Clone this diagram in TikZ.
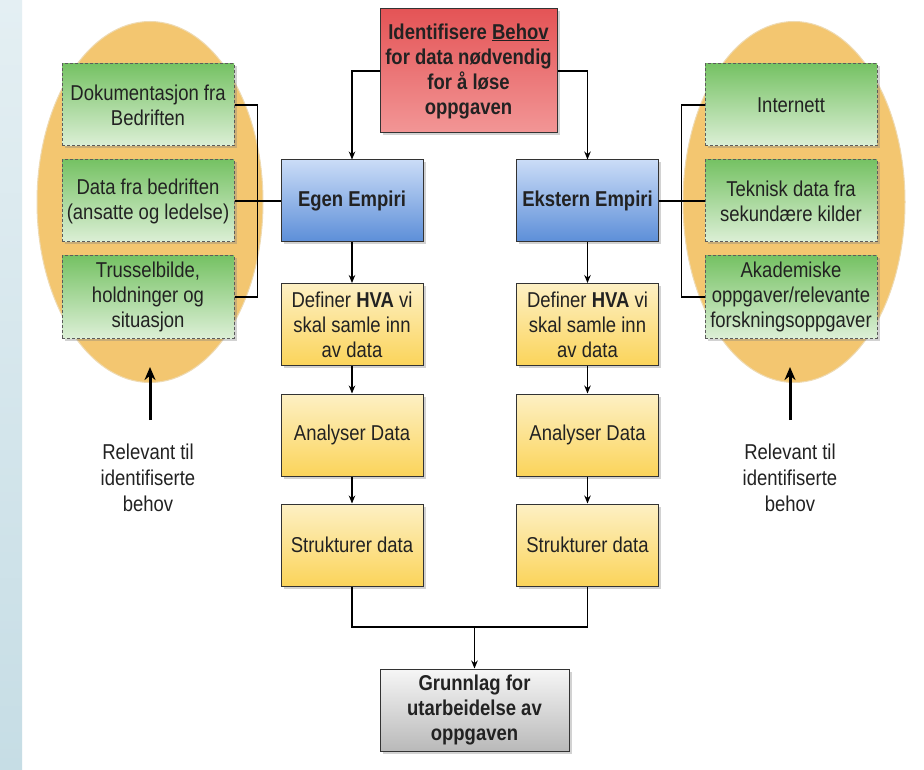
\documentclass[tikz,border=0pt]{standalone}
\usepackage{fontspec}
\setmainfont[FakeStretch=0.86]{Liberation Sans}
\usetikzlibrary{arrows.meta,shadows,shapes.geometric}
\definecolor{txt}{HTML}{222222}
\definecolor{edge}{HTML}{333333}
\tikzset{
  base/.style={rectangle, draw=edge, line width=1pt, inner sep=1pt, align=center, text=txt,
    font=\fontsize{21.5}{25}\selectfont,
    drop shadow={opacity=0.35, shadow xshift=2.5pt, shadow yshift=-2.5pt}},
  redbox/.style={base, top color={rgb,255:red,228;green,84;blue,86}, bottom color={rgb,255:red,242;green,150;blue,150}, font=\bfseries\fontsize{21.5}{25}\selectfont},
  bluebox/.style={base, top color={rgb,255:red,202;green,220;blue,247}, bottom color={rgb,255:red,92;green,142;blue,216}, font=\bfseries\fontsize{21.5}{25}\selectfont},
  yelbox/.style={base, top color={rgb,255:red,253;green,240;blue,196}, bottom color={rgb,255:red,251;green,212;blue,90}},
  graybox/.style={base, top color={rgb,255:red,246;green,246;blue,246}, bottom color={rgb,255:red,185;green,185;blue,185}, font=\bfseries\fontsize{21.5}{25}\selectfont},
  greenbox/.style={base, draw=edge!80, dash pattern=on 3pt off 2pt, top color={rgb,255:red,118;green,194;blue,100}, bottom color={rgb,255:red,220;green,239;blue,214}, minimum width=172pt, minimum height=82pt},
  mainbox/.style={minimum width=142pt, minimum height=82pt},
  oval/.style={ellipse, fill={rgb,255:red,243;green,198;blue,112}, draw={rgb,255:red,238;green,218;blue,178}, line width=1pt, inner sep=0pt},
  arr/.style={-{Stealth[length=8pt,width=6.5pt]}, line width=1.1pt, draw=black},
  conn/.style={line width=1.2pt, draw=black},
  bigarr/.style={-{Stealth[length=13pt,width=11pt]}, line width=3pt, draw=black},
  lbl/.style={align=center, text=txt, font=\fontsize{21.5}{26}\selectfont}
}
\begin{document}
\begin{tikzpicture}[x=1pt,y=-1pt]
\useasboundingbox (0,0) rectangle (924,770);
\fill[white] (0,0) rectangle (924,770);
\shade[top color={rgb,255:red,228;green,239;blue,243}, bottom color={rgb,255:red,198;green,221;blue,229}] (0,0) rectangle (22,770);

% ovals
\node[oval, minimum width=226pt, minimum height=361pt] (lov) at (150,202) {};
\node[oval, minimum width=222pt, minimum height=361pt] (rov) at (794,202) {};

% left green boxes
\node[greenbox] (g1) at (148,105) {Dokumentasjon fra\\Bedriften};
\node[greenbox] (g2) at (148,201) {Data fra bedriften\\(ansatte og ledelse)};
\node[greenbox] (g3) at (148,297) {Trusselbilde,\\holdninger og\\situasjon};

% right green boxes
\node[greenbox] (h1) at (791,105) {Internett};
\node[greenbox] (h2) at (791,201) {Teknisk data fra\\sekundære kilder};
\node[greenbox] (h3) at (791,297) {Akademiske\\oppgaver/relevante\\forskningsoppgaver};

% top
\node[redbox, minimum width=177pt, minimum height=124pt] (top) at (468.5,71) {Identifisere \underline{Behov}\\for data nødvendig\\for å løse\\oppgaven};

% columns
\node[bluebox, mainbox] (egen) at (352,201) {Egen Empiri};
\node[bluebox, mainbox] (ekst) at (587.5,201) {Ekstern Empiri};
\node[yelbox, mainbox] (d1) at (352,324.5) {Definer \textbf{HVA} vi\\skal samle inn\\av data};
\node[yelbox, mainbox] (d2) at (587.5,324.5) {Definer \textbf{HVA} vi\\skal samle inn\\av data};
\node[yelbox, mainbox] (a1) at (352,435) {Analyser Data};
\node[yelbox, mainbox] (a2) at (587.5,435) {Analyser Data};
\node[yelbox, mainbox] (s1) at (352,545) {Strukturer data};
\node[yelbox, mainbox] (s2) at (587.5,545) {Strukturer data};
\node[graybox, minimum width=189pt, minimum height=82pt] (grun) at (474.5,710) {Grunnlag for\\utarbeidelse av\\oppgaven};

% connectors
\draw[arr] (top.west) -| (egen.north);
\draw[arr] (top.east) -| (ekst.north);
\draw[arr] (egen) -- (d1);
\draw[arr] (d1) -- (a1);
\draw[arr] (a1) -- (s1);
\draw[arr] (ekst) -- (d2);
\draw[arr] (d2) -- (a2);
\draw[arr] (a2) -- (s2);
\coordinate (m) at (474.5,627);
\draw[conn] (s1.south) -- (s1.south |- m) -- (s2.south |- m) -- (s2.south);
\draw[arr] (m) -- (grun.north);

% brackets
\draw[conn] (g1.east) -- ++(23,0) |- (g3.east);
\draw[conn] (g2.east) -- (egen.west);
\draw[conn] (h1.west) -- ++(-23,0) |- (h3.west);
\draw[conn] (ekst.east) -- (h2.west);

% bottom arrows and labels
\coordinate (la) at (150,420);
\coordinate (lb) at (150,367);
\coordinate (ra) at (790,420);
\coordinate (rb) at (790,367);
\draw[bigarr] (la) -- (lb);
\draw[bigarr] (ra) -- (rb);
\node[lbl] (ltxt) at (148,478) {Relevant til\\identifiserte\\behov};
\node[lbl] (rtxt) at (790,478) {Relevant til\\identifiserte\\behov};
\end{tikzpicture}
\end{document}
